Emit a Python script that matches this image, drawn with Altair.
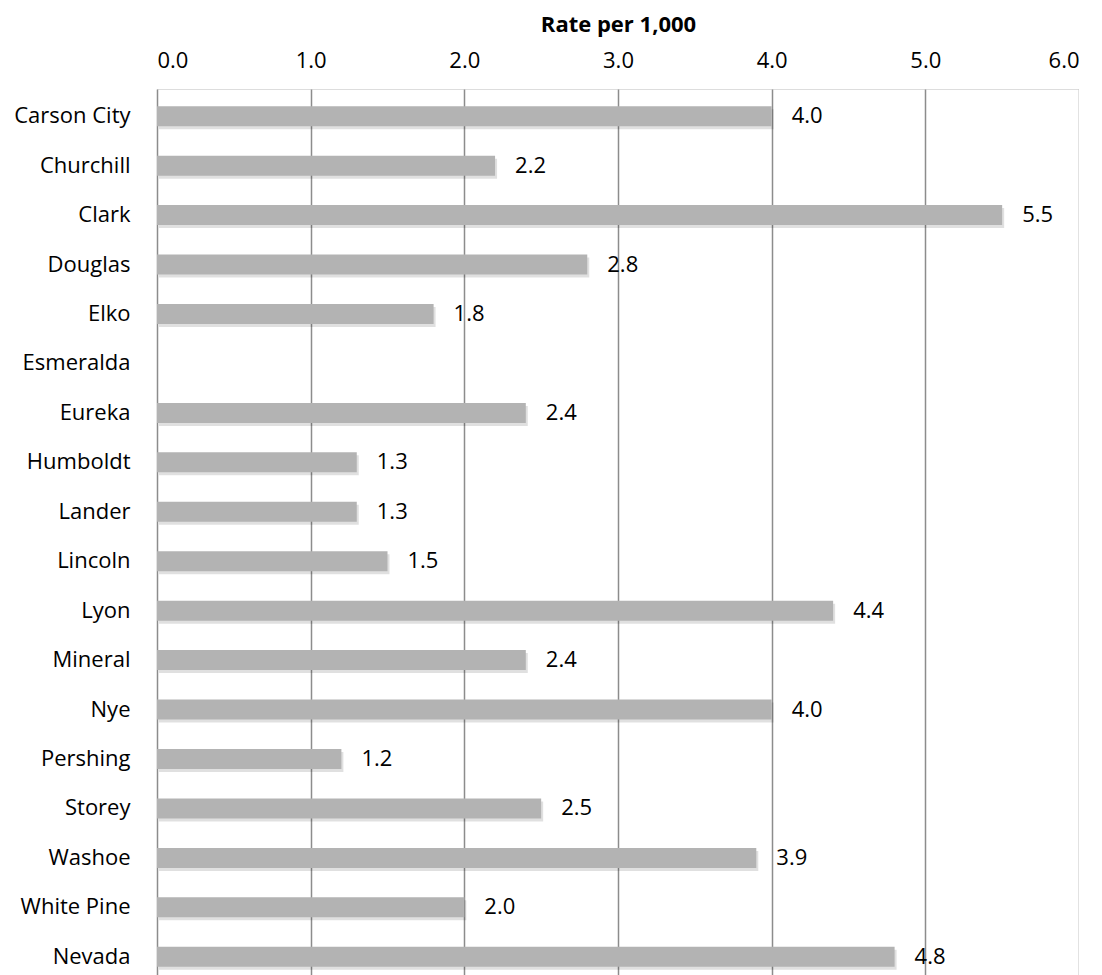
import altair as alt
import pandas as pd

counties = ["Carson City", "Churchill", "Clark", "Douglas", "Elko", "Esmeralda",
            "Eureka", "Humboldt", "Lander", "Lincoln", "Lyon", "Mineral", "Nye",
            "Pershing", "Storey", "Washoe", "White Pine", "Nevada"]
rates = [4.0, 2.2, 5.5, 2.8, 1.8, None, 2.4, 1.3, 1.3, 1.5, 4.4, 2.4, 4.0,
         1.2, 2.5, 3.9, 2.0, 4.8]
x_ticks = [0, 1, 2, 3, 4, 5, 6]

df = pd.DataFrame({"county": counties, "rate": rates})

FONT = "Open Sans"
FS = 22

y_enc = alt.Y("county:N", sort=counties,
              scale=alt.Scale(domain=counties, paddingInner=0.6, paddingOuter=0.35),
              axis=alt.Axis(title=None, ticks=False, domain=False, labelFontSize=FS,
                            labelFont=FONT, labelColor="#000", labelPadding=27))
x_scale = alt.Scale(domain=[0, 6], nice=False)

base = alt.Chart(df).transform_filter("isValid(datum.rate)")

shadow = base.mark_bar(color="#000", opacity=0.12, xOffset=2, yOffset=3, height=20).encode(
    x=alt.X("rate:Q", scale=x_scale), y=y_enc
)

bars = base.mark_bar(color="#b3b3b3", height=20).encode(
    x=alt.X("rate:Q", scale=x_scale,
            axis=alt.Axis(orient="top", values=x_ticks, format=".1f", title="Rate per 1,000",
                          titleFont=FONT, titleFontSize=FS, titleFontWeight="bold",
                          titleColor="#000", titlePadding=13,
                          labelFont=FONT, labelFontSize=FS, labelColor="#000",
                          labelPadding=17, ticks=False, domain=False,
                          grid=True, gridColor="#8c8c8c", gridWidth=1.5)),
    y=y_enc
)

labels = base.mark_text(align="left", baseline="middle", dx=20, font=FONT,
                        fontSize=FS, color="#000").encode(
    x=alt.X("rate:Q", scale=x_scale),
    y=y_enc,
    text=alt.Text("rate:Q", format=".1f")
)

chart = alt.layer(shadow, bars, labels).properties(
    width=922, height=895,
    padding={"top": 5, "left": 5, "right": 0, "bottom": 0}
).configure_view(stroke="#8c8c8c", strokeWidth=1.5).configure(background="white")

chart.save("out.html", embed_options={"renderer": "svg", "actions": False})
